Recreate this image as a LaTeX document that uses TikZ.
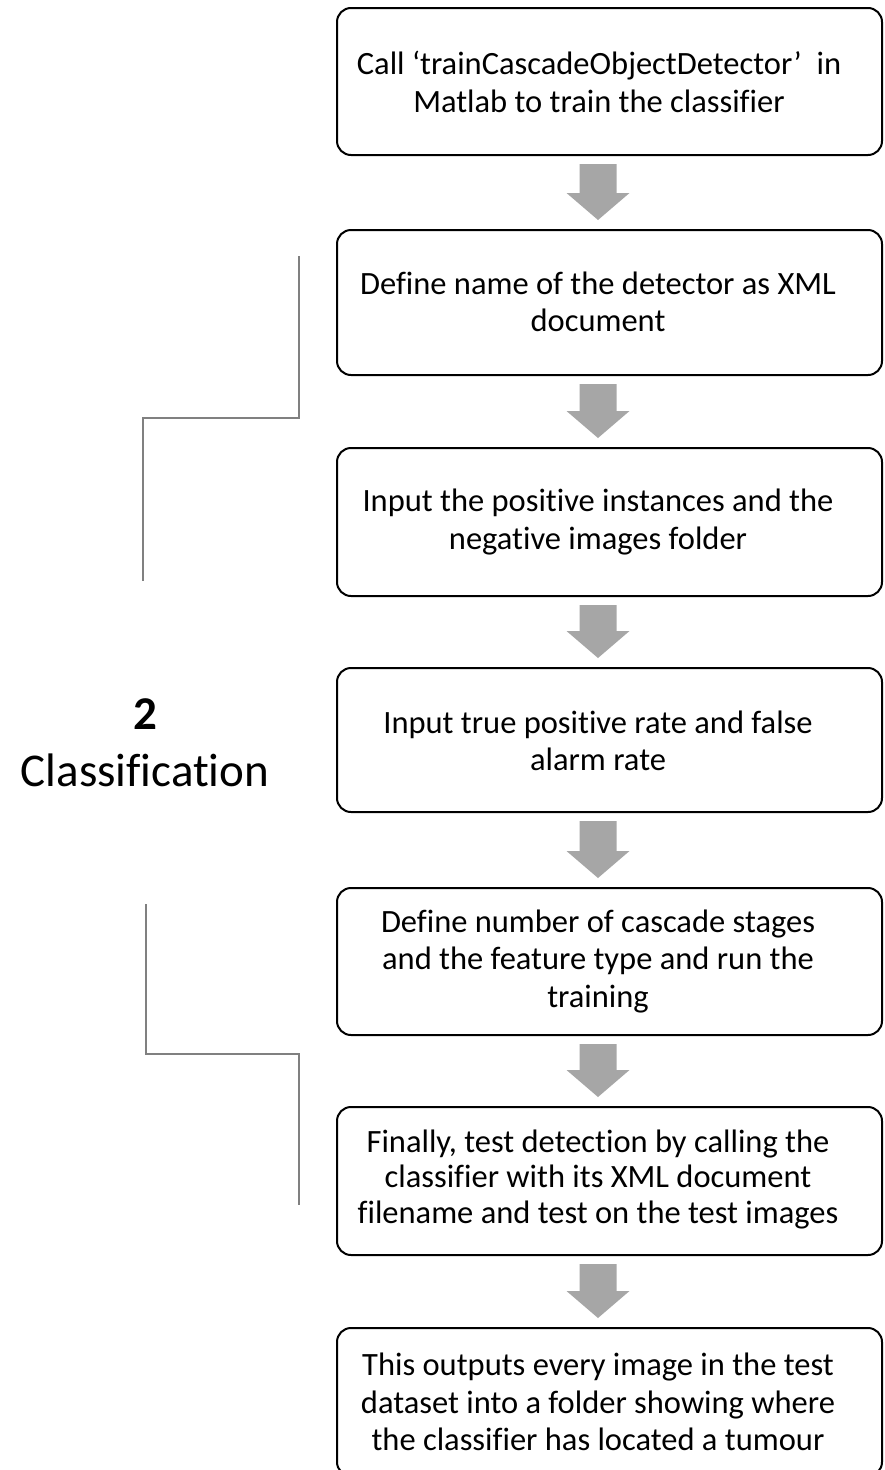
\documentclass[tikz,border=0pt]{standalone}
\usepackage{fontspec}
\setmainfont[Ligatures=NoCommon]{Carlito}
\usetikzlibrary{calc}
\definecolor{arrowgray}{HTML}{A6A6A6}
\definecolor{bracketgray}{HTML}{808080}
\newcommand\blockarrow[2]{%
  \fill[arrowgray] let \p1=($(#1.south)+(-11.5,8)$), \p2=($(#2.north)+(-11.5,-9)$) in
    (\x1-18.5pt,\y1) -- (\x1+18.5pt,\y1) -- (\x1+18.5pt,\y2+27pt) -- (\x1+31.5pt,\y2+27pt)
    -- (\x2,\y2) -- (\x1-31.5pt,\y2+27pt) -- (\x1-18.5pt,\y2+27pt) -- cycle;}
\begin{document}
\begin{tikzpicture}[x=1pt,y=-1pt,
  box/.style={draw=black,line width=2pt,rounded corners=14pt,minimum width=545pt,inner sep=0pt},
  txt/.style={align=center,font=\fontsize{32.5}{37.5}\selectfont,inner sep=0pt,text=black},
  bracket/.style={draw=bracketgray,line width=1.5pt}]
\useasboundingbox (0,0) rectangle (884,1470);
\fill[white] (0,0) rectangle (884,1470);
% boxes
\node[box,minimum height=147pt] (b1) at (609.5,81.5) {};
\node[box,minimum height=145pt] (b2) at (609.5,302.5) {};
\node[box,minimum height=148pt] (b3) at (609.5,522) {};
\node[box,minimum height=144pt] (b4) at (609.5,740) {};
\node[box,minimum height=147pt] (b5) at (609.5,961.5) {};
\node[box,minimum height=148pt] (b6) at (609.5,1181) {};
\node[box,minimum height=148pt] (b7) at (609.5,1402) {};
% texts
\node[txt] (t1) at (599,82) {Call ‘trainCascadeObjectDetector’\ \ in\\Matlab to train the classifier};
\node[txt] (t2) at (598,302) {Define name of the detector as XML\\document};
\node[txt] (t3) at (598,522) {Input the positive instances and the\\negative images folder};
\node[txt] (t4) at (598,741) {Input true positive rate and false\\alarm rate};
\node[txt] (t5) at (598,961) {Define number of cascade stages\\and the feature type and run the\\training};
\node[txt,font=\fontsize{32.5}{35.5}\selectfont] (t6) at (598,1179) {Finally, test detection by calling the\\classifier with its XML document\\filename and test on the test images};
\node[txt] (t7) at (598,1402) {This outputs every image in the test\\dataset into a folder showing where\\the classifier has located a tumour};
% arrows
\blockarrow{b1}{b2}
\blockarrow{b2}{b3}
\blockarrow{b3}{b4}
\blockarrow{b4}{b5}
\blockarrow{b5}{b6}
\blockarrow{b6}{b7}
% label
\node[align=center,inner sep=0pt,font=\fontsize{47}{57}\selectfont] (lbl) at (145,743) {\textbf{2}\\Classification};
% brackets
\draw[bracket] (299,256) -- (299,418) -- (143,418) -- (143,581);
\draw[bracket] (146,904) -- (146,1054) -- (299,1054) -- (299,1205);
\end{tikzpicture}
\end{document}
